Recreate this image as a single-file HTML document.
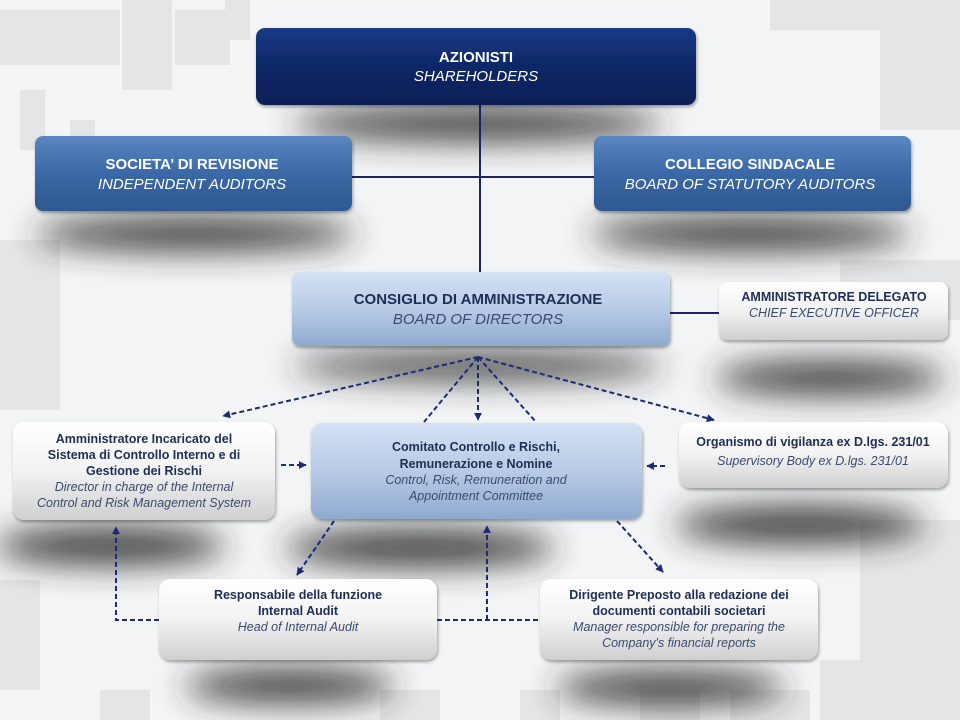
<!DOCTYPE html>
<html><head><meta charset="utf-8"><style>
html,body{margin:0;padding:0;width:960px;height:720px;overflow:hidden;background:#f3f4f5}
svg{display:block}
text{font-family:"Liberation Sans",Arial,sans-serif;text-anchor:middle}
.b{font-weight:bold}
.i{font-style:italic}
</style></head><body>
<svg width="960" height="720" viewBox="0 0 960 720" xmlns="http://www.w3.org/2000/svg">
<defs>
<linearGradient id="gNavy" x1="0" y1="0" x2="0" y2="1"><stop offset="0" stop-color="#1a3a86"/><stop offset="0.5" stop-color="#0e2766"/><stop offset="1" stop-color="#0b1f55"/></linearGradient>
<linearGradient id="gMid" x1="0" y1="0" x2="0" y2="1"><stop offset="0" stop-color="#5b86c2"/><stop offset="0.5" stop-color="#3b68a6"/><stop offset="1" stop-color="#2f5890"/></linearGradient>
<linearGradient id="gLight" x1="0" y1="0" x2="0" y2="1"><stop offset="0" stop-color="#d3e1f4"/><stop offset="0.5" stop-color="#b7cbe6"/><stop offset="1" stop-color="#8fa9cf"/></linearGradient>
<linearGradient id="gWhite" x1="0" y1="0" x2="0" y2="1"><stop offset="0" stop-color="#ffffff"/><stop offset="0.5" stop-color="#f2f2f2"/><stop offset="1" stop-color="#cfcfcf"/></linearGradient>
<filter id="blur" x="-50%" y="-150%" width="200%" height="400%"><feGaussianBlur stdDeviation="16"/></filter>
<filter id="ds" x="-10%" y="-10%" width="120%" height="130%"><feDropShadow dx="1" dy="2" stdDeviation="1.5" flood-color="#000" flood-opacity="0.35"/></filter>
<marker id="ar" viewBox="0 0 10 10" refX="9" refY="5" markerWidth="4" markerHeight="4" orient="auto"><path d="M0,0 L10,5 L0,10 z" fill="#1c2a78"/></marker>
</defs>
<rect width="960" height="720" fill="#f3f4f5"/>
<g fill="#e4e5e7">
<rect x="0" y="10" width="120" height="55"/><rect x="122" y="0" width="50" height="90"/><rect x="175" y="10" width="55" height="55"/>
<rect x="20" y="90" width="25" height="60"/><rect x="70" y="120" width="25" height="30"/><rect x="225" y="0" width="25" height="40"/>
<rect x="770" y="0" width="190" height="30"/><rect x="880" y="30" width="80" height="100"/><rect x="840" y="260" width="120" height="60"/>
<rect x="0" y="240" width="60" height="170"/><rect x="860" y="520" width="100" height="200"/><rect x="820" y="660" width="40" height="60"/>
<rect x="0" y="580" width="40" height="110"/><rect x="380" y="690" width="60" height="30"/><rect x="520" y="690" width="40" height="30"/>
<rect x="640" y="690" width="60" height="30"/><rect x="730" y="690" width="80" height="30"/><rect x="100" y="690" width="50" height="30"/>
</g>
<g fill="#2a2a2a" filter="url(#blur)" opacity="0.9">
<ellipse cx="478" cy="124" rx="185" ry="17"/>
<ellipse cx="195" cy="234" rx="160" ry="17"/>
<ellipse cx="750" cy="234" rx="160" ry="17"/>
<ellipse cx="478" cy="366" rx="185" ry="14"/>
<ellipse cx="830" cy="378" rx="115" ry="17"/>
<ellipse cx="110" cy="546" rx="115" ry="19"/>
<ellipse cx="420" cy="548" rx="135" ry="19"/>
<ellipse cx="800" cy="525" rx="125" ry="19"/>
<ellipse cx="290" cy="686" rx="105" ry="17"/>
<ellipse cx="670" cy="688" rx="115" ry="17"/>
</g>
<g stroke="#1b2464" stroke-width="2" fill="none">
<line x1="480" y1="100" x2="480" y2="274"/>
<line x1="350" y1="177" x2="596" y2="177"/>
<line x1="668" y1="313" x2="721" y2="313"/>
</g>
<rect x="256" y="28" width="440" height="77" rx="9" fill="url(#gNavy)" filter="url(#ds)"/>
<rect x="35" y="136" width="317" height="75" rx="8" fill="url(#gMid)" filter="url(#ds)"/>
<rect x="594" y="136" width="317" height="75" rx="8" fill="url(#gMid)" filter="url(#ds)"/>
<rect x="292" y="272" width="378" height="74" rx="8" fill="url(#gLight)" filter="url(#ds)"/>
<rect x="719" y="282" width="229" height="58" rx="8" fill="url(#gWhite)" filter="url(#ds)"/>
<rect x="311" y="423" width="331" height="96" rx="11" fill="url(#gLight)" filter="url(#ds)"/>
<rect x="13" y="422" width="262" height="98" rx="11" fill="url(#gWhite)" filter="url(#ds)"/>
<rect x="679" y="422" width="269" height="66" rx="11" fill="url(#gWhite)" filter="url(#ds)"/>
<rect x="159" y="579" width="278" height="81" rx="11" fill="url(#gWhite)" filter="url(#ds)"/>
<rect x="540" y="579" width="278" height="81" rx="11" fill="url(#gWhite)" filter="url(#ds)"/>
<g stroke="#1c2a78" stroke-width="2" stroke-dasharray="5,3" fill="none">
<line x1="478" y1="357" x2="223" y2="416" marker-end="url(#ar)"/>
<line x1="478" y1="357" x2="478" y2="420" marker-end="url(#ar)"/>
<line x1="478" y1="357" x2="714" y2="420" marker-end="url(#ar)"/>
<line x1="478" y1="357" x2="424" y2="422"/>
<line x1="478" y1="357" x2="536" y2="422"/>
<line x1="281" y1="465" x2="306" y2="465" marker-end="url(#ar)"/>
<line x1="665" y1="466" x2="647" y2="466" marker-end="url(#ar)"/>
<line x1="334" y1="521" x2="297" y2="575" marker-end="url(#ar)"/>
<line x1="617" y1="521" x2="663" y2="572" marker-end="url(#ar)"/>
<polyline points="159,620 116,620 116,527" marker-end="url(#ar)"/>
<line x1="437" y1="620" x2="540" y2="620"/>
<line x1="487" y1="620" x2="487" y2="526" marker-end="url(#ar)"/>
</g>
<g fill="#ffffff" font-size="15">
<text x="476" y="62" class="b">AZIONISTI</text>
<text x="476" y="81" class="i">SHAREHOLDERS</text>
<text x="192" y="169" class="b">SOCIETA’ DI REVISIONE</text>
<text x="192" y="189" class="i">INDEPENDENT AUDITORS</text>
<text x="750" y="169" class="b">COLLEGIO SINDACALE</text>
<text x="750" y="189" class="i">BOARD OF STATUTORY AUDITORS</text>
</g>
<g fill="#1e2e55" font-size="15">
<text x="478" y="304" class="b">CONSIGLIO DI AMMINISTRAZIONE</text>
<text x="478" y="324" class="i" fill="#3a4a6e">BOARD OF DIRECTORS</text>
</g>
<g font-size="12.5">
<text x="834" y="301" class="b" fill="#1e2e55">AMMINISTRATORE DELEGATO</text>
<text x="834" y="317" class="i" fill="#3a4a6e">CHIEF EXECUTIVE OFFICER</text>
</g>
<g font-size="12.5" fill="#1e2e55">
<text x="476" y="451" class="b">Comitato Controllo e Rischi,</text>
<text x="476" y="468" class="b">Remunerazione e Nomine</text>
<text x="476" y="484" class="i" fill="#3a4a6e">Control, Risk, Remuneration and</text>
<text x="476" y="500" class="i" fill="#3a4a6e">Appointment Committee</text>
<text x="144" y="443" class="b">Amministratore Incaricato del</text>
<text x="144" y="459" class="b">Sistema di Controllo Interno e di</text>
<text x="144" y="475" class="b">Gestione dei Rischi</text>
<text x="144" y="491" class="i" fill="#3a4a6e">Director in charge of the Internal</text>
<text x="144" y="507" class="i" fill="#3a4a6e">Control and Risk Management  System</text>
<text x="813" y="446" class="b">Organismo di vigilanza ex D.lgs. 231/01</text>
<text x="813" y="465" class="i" fill="#3a4a6e">Supervisory Body ex D.lgs. 231/01</text>
<text x="298" y="599" class="b">Responsabile della funzione</text>
<text x="298" y="615" class="b">Internal Audit</text>
<text x="298" y="631" class="i" fill="#3a4a6e">Head of Internal Audit</text>
<text x="679" y="599" class="b">Dirigente Preposto alla redazione dei</text>
<text x="679" y="615" class="b">documenti contabili societari</text>
<text x="679" y="631" class="i" fill="#3a4a6e">Manager responsible for preparing the</text>
<text x="679" y="647" class="i" fill="#3a4a6e">Company's financial reports</text>
</g>
</svg>
</body></html>
